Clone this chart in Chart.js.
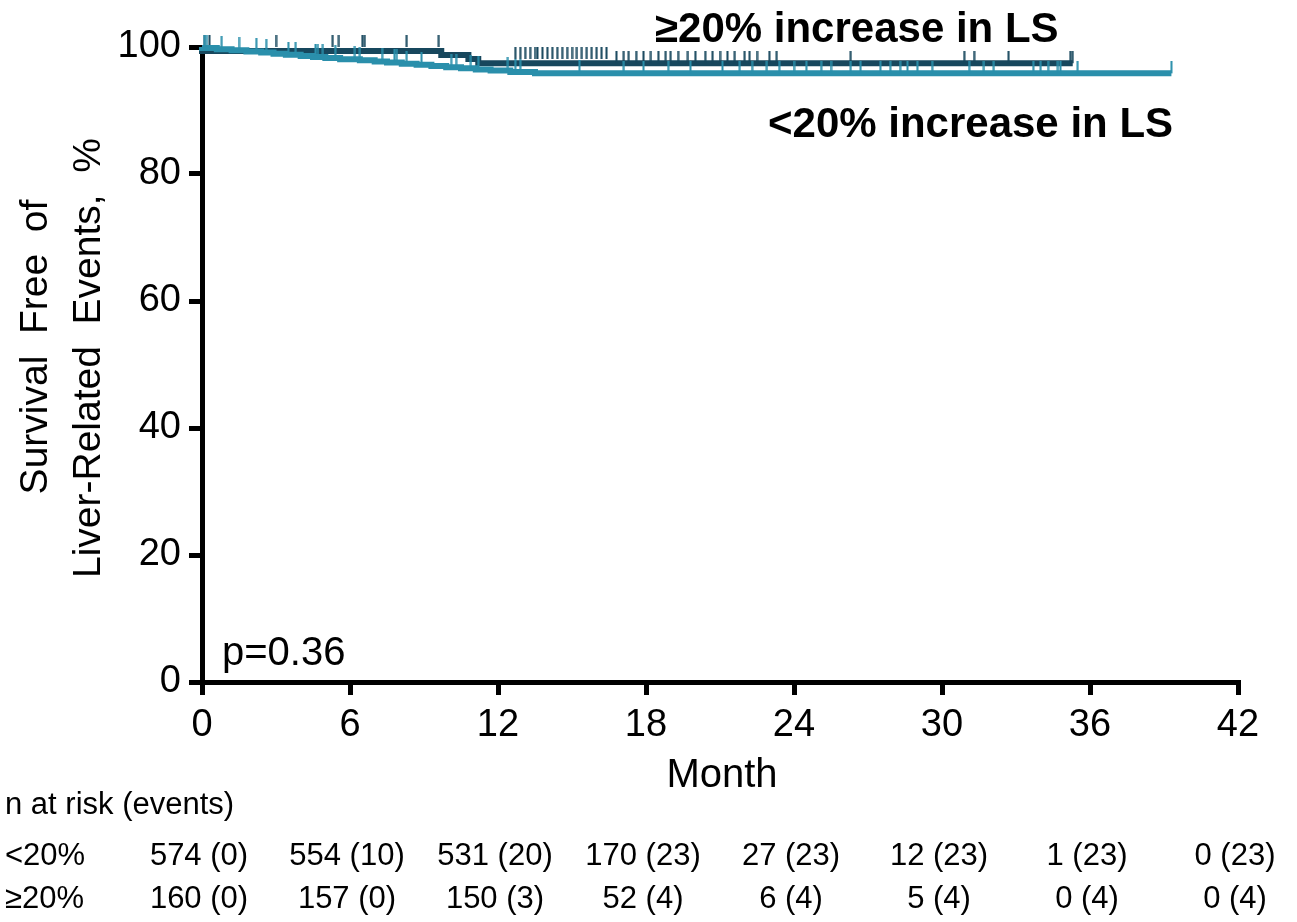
<!DOCTYPE html>
<html>
<head>
<meta charset="utf-8">
<script src="https://cdn.jsdelivr.net/npm/chart.js@4.4.0/dist/chart.umd.min.js"></script>
<style>
  html, body { margin: 0; padding: 0; background: #fff; }
  #wrap { width: 1297px; height: 922px; }
</style>
</head>
<body>
<div id="wrap"><canvas id="chart" width="1297" height="922"></canvas></div>
<script>
// Kaplan-Meier steps (months, % event free)
const lowTimes = [0, 0.6, 1.2, 1.8, 2.4, 2.9, 3.4, 4.0, 4.5, 5.0, 5.6,
    6.4, 7.0, 7.5, 8.1, 8.7, 9.3, 9.9, 10.5, 11.1, 11.7, 12.5, 13.5, 16.5, 39.3];
const lowSurv = [100, 99.83, 99.65, 99.48, 99.30, 99.13, 98.95, 98.78, 98.60, 98.43, 98.25,
    98.08, 97.90, 97.72, 97.54, 97.37, 97.19, 97.01, 96.83, 96.65, 96.47, 96.28, 96.07, 95.85, 95.85];

const highTimes = [0, 9.7, 10.8, 11.2, 16.6, 35.3];
const highSurv = [100, 99.38, 98.75, 98.12, 97.45, 97.45];

// censor marks (months)
const lowCensor = [0.1, 0.2, 0.8, 1.5, 2.2, 2.6, 3.5, 3.8, 4.6, 4.7, 4.9, 5.4, 6.2, 6.4, 7.3, 7.8, 7.9,
    8.3, 8.9, 10.1, 10.3, 10.9, 11.2, 12.4, 12.7, 12.9, 15.3, 17.1, 17.9, 18.9, 19.8, 21.1, 21.8,
    22.3, 22.9, 23.4, 24.0, 24.5, 25.1, 25.5, 26.3, 26.7, 27.5, 27.9, 28.3, 28.6, 29.0, 29.6,
    31.1, 31.7, 32.1, 33.7, 34.0, 34.3, 34.7, 34.8, 35.5, 39.3];
const highCensor = [0.1, 0.3, 3.0, 5.3, 5.55, 6.5, 6.6, 8.3, 9.6, 12.7, 12.9, 13.1, 13.3, 13.5, 13.6,
    13.8, 14.0, 14.2, 14.4, 14.6, 14.8, 15.0, 15.2, 15.4, 15.6, 15.8, 16.0, 16.2, 16.4, 16.8, 17.1,
    17.3, 17.6, 17.9, 18.2, 18.5, 18.8, 19.0, 19.3, 19.7, 20.0, 20.4, 20.7, 21.0, 21.3, 21.6, 22.0,
    22.2, 22.5, 23.0, 23.3, 26.3, 30.9, 31.3, 32.7, 35.2, 35.3];

// risk table
const riskMonths = [0, 6, 12, 18, 24, 30, 36, 42];
const riskLow = ['574 (0)', '554 (10)', '531 (20)', '170 (23)', '27 (23)', '12 (23)', '1 (23)', '0 (23)'];
const riskHigh = ['160 (0)', '157 (0)', '150 (3)', '52 (4)', '6 (4)', '5 (4)', '0 (4)', '0 (4)'];

const lightColor = '#2a8fab';
const darkColor = '#17475d';
const FONT = '"Liberation Sans", Arial, sans-serif';

function survAt(times, surv, t) {
    let v = surv[0];
    for (let i = 0; i < times.length; i++) {
        if (times[i] <= t) v = surv[i];
    }
    return v;
}

function censorMark(color) {
    const c = document.createElement('canvas');
    c.width = 3;
    c.height = 24;
    const g = c.getContext('2d');
    g.fillStyle = color;
    g.fillRect(0.5, 0, 2, 12);
    return c;
}

const textPlugin = {
    id: 'texts',
    afterDraw(chart) {
        const ctx = chart.ctx;
        const x = chart.scales.x;
        ctx.save();
        ctx.fillStyle = '#000';

        // y title
        ctx.font = '39px ' + FONT;
        ctx.textAlign = 'center';
        ctx.textBaseline = 'alphabetic';
        ctx.save();
        ctx.translate(47, 347);
        ctx.rotate(-Math.PI / 2);
        ctx.fillText('Survival  Free  of', 0, 0);
        ctx.restore();
        ctx.save();
        ctx.translate(100, 358);
        ctx.rotate(-Math.PI / 2);
        ctx.fillText('Liver-Related  Events,  %', 0, 0);
        ctx.restore();

        // x title
        ctx.font = '40px ' + FONT;
        ctx.fillText('Month', 722, 787);

        // p value
        ctx.textAlign = 'left';
        ctx.fillText('p=0.36', 222, 665);

        // curve labels
        ctx.font = 'bold 42px ' + FONT;
        ctx.fillText('\u226520% increase in LS', 655, 42);
        ctx.fillText('<20% increase in LS', 768, 137);

        // risk table
        ctx.font = '31px ' + FONT;
        ctx.fillText('n at risk (events)', 5, 814);
        ctx.fillText('<20%', 5, 865);
        ctx.fillText('\u226520%', 5, 908);
        ctx.textAlign = 'center';
        riskMonths.forEach((m, i) => {
            const px = x.getPixelForValue(m) - 3;
            ctx.fillText(riskLow[i], px, 865);
            ctx.fillText(riskHigh[i], px, 908);
        });
        ctx.restore();
    }
};

const lowLine = lowTimes.map((t, i) => ({ x: t, y: lowSurv[i] }));
const highLine = highTimes.map((t, i) => ({ x: t, y: highSurv[i] }));
const lowMarks = lowCensor.map(t => ({ x: t, y: survAt(lowTimes, lowSurv, t) }));
const highMarks = highCensor.map(t => ({ x: t, y: survAt(highTimes, highSurv, t) }));

new Chart(document.getElementById('chart'), {
    type: 'line',
    data: {
        datasets: [
            {
                data: lowMarks,
                showLine: false,
                pointStyle: censorMark(lightColor),
                pointRadius: 5,
                pointHoverRadius: 5,
                clip: false
            },
            {
                data: lowLine,
                stepped: 'after',
                borderColor: lightColor,
                borderWidth: 6,
                pointRadius: 0,
                fill: false,
                clip: false
            },
            {
                data: highMarks,
                showLine: false,
                pointStyle: censorMark(darkColor),
                pointRadius: 5,
                pointHoverRadius: 5,
                clip: false
            },
            {
                data: highLine,
                stepped: 'after',
                borderColor: darkColor,
                borderWidth: 6,
                pointRadius: 0,
                fill: false,
                clip: false
            }
        ]
    },
    options: {
        responsive: false,
        devicePixelRatio: 1,
        animation: false,
        layout: { padding: { left: 0, top: 47, right: 59, bottom: 0 } },
        plugins: {
            legend: { display: false },
            tooltip: { enabled: false }
        },
        scales: {
            x: {
                type: 'linear',
                min: 0,
                max: 42,
                afterFit: s => { s.height = 240; },
                ticks: {
                    stepSize: 6,
                    autoSkip: false,
                    maxRotation: 0,
                    color: '#000',
                    padding: 8,
                    font: { family: FONT, size: 38 }
                },
                grid: {
                    drawOnChartArea: false,
                    drawTicks: true,
                    tickLength: 13,
                    tickWidth: 5,
                    tickColor: '#000',
                    lineWidth: 5,
                    color: '#000'
                },
                border: { display: true, width: 5, color: '#000' }
            },
            y: {
                min: 0,
                max: 100,
                afterFit: s => { s.width = 202; },
                ticks: {
                    stepSize: 20,
                    color: '#000',
                    padding: 8,
                    font: { family: FONT, size: 38 }
                },
                grid: {
                    drawOnChartArea: false,
                    drawTicks: true,
                    tickLength: 13,
                    tickWidth: 5,
                    tickColor: '#000',
                    lineWidth: 5,
                    color: '#000'
                },
                border: { display: true, width: 5, color: '#000' }
            }
        }
    },
    plugins: [textPlugin]
});
</script>
</body>
</html>
